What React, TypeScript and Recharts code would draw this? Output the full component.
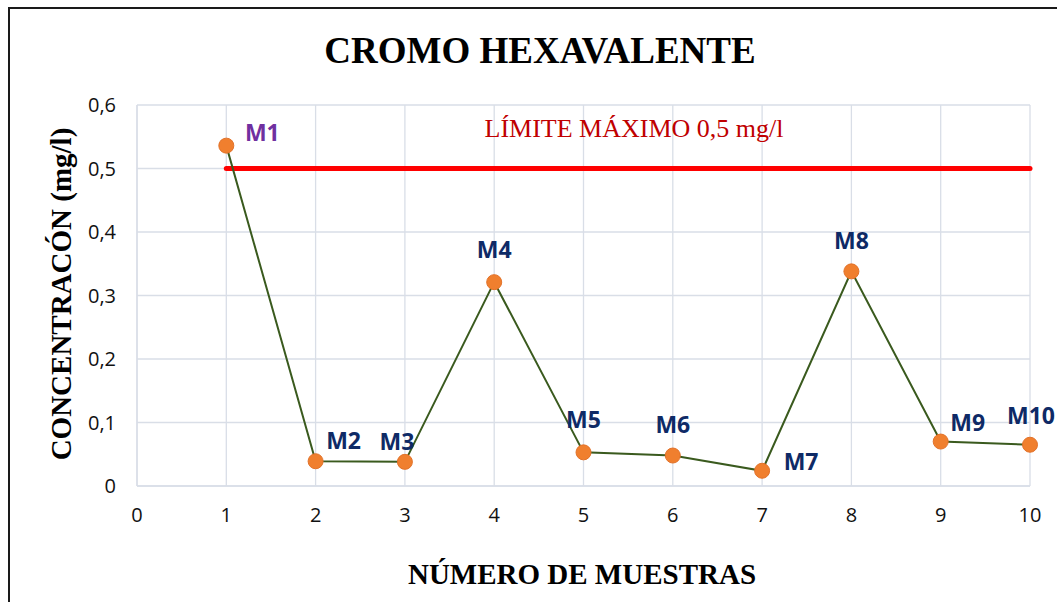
import * as React from 'react';
import {
  LineChart,
  Line,
  XAxis,
  YAxis,
  CartesianGrid,
  LabelList,
  Customized
} from 'recharts';

// values
const sampleNumbers = [1, 2, 3, 4, 5, 6, 7, 8, 9, 10];
const sampleNames = ['M1', 'M2', 'M3', 'M4', 'M5', 'M6', 'M7', 'M8', 'M9', 'M10'];
const concentration = [0.536, 0.039, 0.038, 0.321, 0.053, 0.048, 0.024, 0.338, 0.07, 0.065];
const limitValue = 0.5;
const xTicks = [0, 1, 2, 3, 4, 5, 6, 7, 8, 9, 10];
const yTicks = [0, 0.1, 0.2, 0.3, 0.4, 0.5, 0.6];

const data = sampleNumbers.map((n, i) => ({
  n,
  name: sampleNames[i],
  conc: concentration[i],
  limit: limitValue
}));

// where each point label sits relative to its dot (dx, dy of the text centre)
const labelOffsets: Record<string, [number, number]> = {
  M1: [36, -14],
  M2: [28, -21],
  M3: [-8, -21],
  M4: [0, -33],
  M5: [0, -33],
  M6: [0, -32],
  M7: [39, -10],
  M8: [0, -31],
  M9: [27, -20],
  M10: [1, -30]
};

const GRID = '#D9DEE7';
const fmt = (v: number) => String(v).replace('.', ',');

const PointLabel = (props: any) => {
  const { x, y, value } = props;
  const off = labelOffsets[value] || [0, -25];
  return (
    <text
      x={x + off[0]}
      y={y + off[1]}
      textAnchor="middle"
      dominantBaseline="central"
      fontFamily="'Open Sans', sans-serif"
      fontWeight={700}
      fontSize={23}
      fill={value === 'M1' ? '#7030A0' : '#0E2A66'}
    >
      {value}
    </text>
  );
};

const Titles = () => (
  <g fontFamily="'Liberation Serif', 'Times New Roman', serif">
    <text x={540} y={63} textAnchor="middle" fontSize={37} fontWeight={700} fill="#000">
      CROMO HEXAVALENTE
    </text>
    <text x={634} y={137} textAnchor="middle" fontSize={26} fill="#C00000">
      LÍMITE MÁXIMO 0,5 mg/l
    </text>
    <text x={582} y={584} textAnchor="middle" fontSize={29} fontWeight={700} fill="#000">
      NÚMERO DE MUESTRAS
    </text>
    <text
      x={0}
      y={0}
      transform="translate(71, 294) rotate(-90)"
      textAnchor="middle"
      fontSize={29}
      fontWeight={700}
      fill="#000"
    >
      CONCENTRACÓN (mg/l)
    </text>
  </g>
);

export default function App() {
  return (
    <div
      style={{
        position: 'absolute',
        left: 0,
        top: 0,
        width: 1057,
        height: 602,
        overflow: 'hidden',
        background: '#fff'
      }}
    >
      <div
        style={{
          position: 'absolute',
          left: 8,
          top: 7,
          width: 1200,
          height: 800,
          border: '2px solid #1a1a1a'
        }}
      />
      <div style={{ position: 'absolute', left: 0, top: 0 }}>
        <LineChart
          width={1057}
          height={602}
          data={data}
          margin={{ top: 105, right: 27, bottom: 56, left: 0 }}
        >
          <CartesianGrid stroke={GRID} strokeWidth={1.3} />
          <XAxis
            dataKey="n"
            type="number"
            domain={[0, 10]}
            ticks={xTicks}
            height={60}
            axisLine={{ stroke: GRID, strokeWidth: 1.3 }}
            tickLine={false}
            tickSize={0}
            tickMargin={22}
            tick={{ fontFamily: "'Open Sans', sans-serif", fontSize: 20, fill: '#111' }}
          />
          <YAxis
            type="number"
            domain={[0, 0.6]}
            ticks={yTicks}
            width={137}
            axisLine={{ stroke: GRID, strokeWidth: 1.3 }}
            tickLine={false}
            tickSize={0}
            tickMargin={21}
            tickFormatter={fmt}
            tick={{ fontFamily: "'Open Sans', sans-serif", fontSize: 20, fill: '#111' }}
          />
          <Line
            dataKey="limit"
            stroke="#FF0000"
            strokeWidth={5}
            strokeLinecap="round"
            dot={false}
            activeDot={false}
            isAnimationActive={false}
          />
          <Line
            dataKey="conc"
            type="linear"
            stroke="#3A5A1E"
            strokeWidth={2}
            dot={{ r: 7.5, fill: '#F07F2E', stroke: '#E2722A', strokeWidth: 1 }}
            activeDot={false}
            isAnimationActive={false}
          >
            <LabelList dataKey="name" content={PointLabel} />
          </Line>
          <Customized component={Titles} />
        </LineChart>
      </div>
    </div>
  );
}
